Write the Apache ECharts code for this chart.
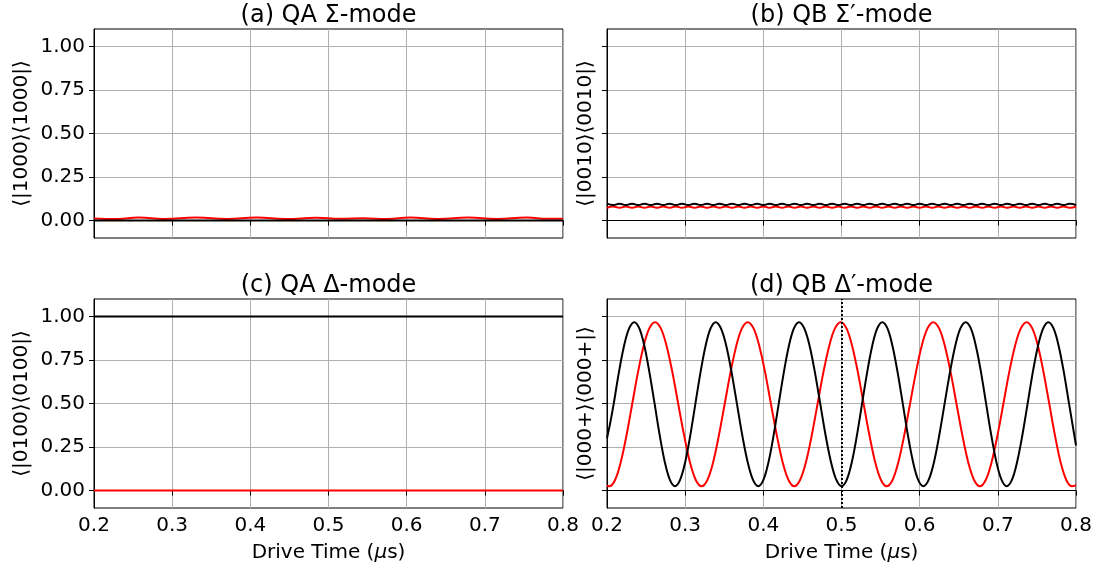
<!DOCTYPE html>
<html><head><meta charset="utf-8">
<script src="https://cdn.jsdelivr.net/npm/echarts@6/dist/echarts.min.js"></script>
<style>html,body{margin:0;padding:0;background:#fff}#c{width:1102px;height:569px}</style>
</head><body><div id="c"></div>
<script>
// ---------- data ----------
const titles = ['(a) QA Σ-mode', '(b) QB Σ′-mode', '(c) QA Δ-mode', '(d) QB Δ′-mode'];
const yLabels = ['⟨|1000⟩⟨1000|⟩', '⟨|0010⟩⟨0010|⟩', '⟨|0100⟩⟨0100|⟩', '⟨|000+⟩⟨000+|⟩'];
const xLabel = 'Drive Time ({i|μ}s)';
const yTicks = [0, 0.25, 0.5, 0.75, 1.0];

// (a)
const aRedX = [0.2, 0.23, 0.257, 0.29, 0.331, 0.37, 0.408, 0.445, 0.485, 0.515, 0.545, 0.575, 0.604, 0.64, 0.679, 0.715, 0.754, 0.78, 0.8];
const aRedY = [0.012, 0.009, 0.017, 0.009, 0.017, 0.009, 0.017, 0.009, 0.016, 0.010, 0.013, 0.009, 0.017, 0.009, 0.017, 0.009, 0.017, 0.010, 0.011];
const aBlackX = [0.2, 0.8];
const aBlackY = [0.0, 0.0];

// (b)
const bX = [0.200, 0.208, 0.216, 0.224, 0.232, 0.240, 0.248, 0.256, 0.264, 0.272, 0.280, 0.288, 0.296, 0.304, 0.312, 0.320, 0.328, 0.336, 0.344, 0.352, 0.360, 0.368, 0.376, 0.384, 0.392, 0.400, 0.408, 0.416, 0.424, 0.432, 0.440, 0.448, 0.456, 0.464, 0.472, 0.480, 0.488, 0.496, 0.504, 0.512, 0.520, 0.528, 0.536, 0.544, 0.552, 0.560, 0.568, 0.576, 0.584, 0.592, 0.600, 0.608, 0.616, 0.624, 0.632, 0.640, 0.648, 0.656, 0.664, 0.672, 0.680, 0.688, 0.696, 0.704, 0.712, 0.720, 0.728, 0.736, 0.744, 0.752, 0.760, 0.768, 0.776, 0.784, 0.792, 0.800];
const bBlackY = [0.097, 0.089, 0.097, 0.089, 0.097, 0.089, 0.097, 0.089, 0.097, 0.089, 0.097, 0.089, 0.097, 0.089, 0.097, 0.089, 0.097, 0.089, 0.097, 0.089, 0.097, 0.089, 0.097, 0.089, 0.097, 0.089, 0.097, 0.089, 0.097, 0.089, 0.097, 0.089, 0.097, 0.089, 0.097, 0.089, 0.097, 0.089, 0.097, 0.089, 0.097, 0.089, 0.097, 0.089, 0.097, 0.089, 0.097, 0.089, 0.097, 0.089, 0.097, 0.089, 0.097, 0.089, 0.097, 0.089, 0.097, 0.089, 0.097, 0.089, 0.097, 0.089, 0.097, 0.089, 0.097, 0.089, 0.097, 0.089, 0.097, 0.089, 0.097, 0.089, 0.097, 0.089, 0.097, 0.089];
const bRedY = [0.073, 0.081, 0.073, 0.081, 0.073, 0.081, 0.073, 0.081, 0.073, 0.081, 0.073, 0.081, 0.073, 0.081, 0.073, 0.081, 0.073, 0.081, 0.073, 0.081, 0.073, 0.081, 0.073, 0.081, 0.073, 0.081, 0.073, 0.081, 0.073, 0.081, 0.073, 0.081, 0.073, 0.081, 0.073, 0.081, 0.073, 0.081, 0.073, 0.081, 0.073, 0.081, 0.073, 0.081, 0.073, 0.081, 0.073, 0.081, 0.073, 0.081, 0.073, 0.081, 0.073, 0.081, 0.073, 0.081, 0.073, 0.081, 0.073, 0.081, 0.073, 0.081, 0.073, 0.081, 0.073, 0.081, 0.073, 0.081, 0.073, 0.081, 0.073, 0.081, 0.073, 0.081, 0.073, 0.081];

// (c)
const cBlackX = [0.2, 0.8];
const cBlackY = [1.0, 1.0];
const cRedX = [0.2, 0.8];
const cRedY = [0.0, 0.0];

// (d)
const dBlackX = [
  0.2000, 0.2042, 0.2085, 0.2151, 0.2217, 0.2283, 0.2349,
  0.2414, 0.2479, 0.2544, 0.2610, 0.2675, 0.2740, 0.2805, 0.2870,
  0.2935, 0.3000, 0.3065, 0.3130, 0.3195, 0.3260, 0.3325, 0.3390,
  0.3458, 0.3527, 0.3595, 0.3663, 0.3731, 0.3800, 0.3868, 0.3936,
  0.4001, 0.4066, 0.4131, 0.4196, 0.4261, 0.4326, 0.4391, 0.4456,
  0.4524, 0.4593, 0.4661, 0.4729, 0.4797, 0.4866, 0.4934, 0.5002,
  0.5067, 0.5132, 0.5197, 0.5262, 0.5327, 0.5392, 0.5457, 0.5522,
  0.5588, 0.5653, 0.5719, 0.5785, 0.5850, 0.5916, 0.5981, 0.6047,
  0.6115, 0.6183, 0.6250, 0.6318, 0.6386, 0.6454, 0.6521, 0.6589,
  0.6655, 0.6720, 0.6786, 0.6851, 0.6917, 0.6982, 0.7048, 0.7113,
  0.7180, 0.7246, 0.7313, 0.7380, 0.7446, 0.7513, 0.7580, 0.7646,
  0.7713, 0.7779, 0.7846, 0.7912, 0.7979, 0.8000];
const dBlackY = [
  0.300, 0.390, 0.496, 0.676, 0.829, 0.931, 0.967,
  0.931, 0.829, 0.676, 0.496, 0.316, 0.163, 0.061, 0.025,
  0.061, 0.163, 0.316, 0.496, 0.676, 0.829, 0.931, 0.967,
  0.931, 0.829, 0.676, 0.496, 0.316, 0.163, 0.061, 0.025,
  0.061, 0.163, 0.316, 0.496, 0.676, 0.829, 0.931, 0.967,
  0.931, 0.829, 0.676, 0.496, 0.316, 0.163, 0.061, 0.025,
  0.061, 0.163, 0.316, 0.496, 0.676, 0.829, 0.931, 0.967,
  0.931, 0.829, 0.676, 0.496, 0.316, 0.163, 0.061, 0.025,
  0.061, 0.163, 0.316, 0.496, 0.676, 0.829, 0.931, 0.967,
  0.931, 0.829, 0.676, 0.496, 0.316, 0.163, 0.061, 0.025,
  0.061, 0.163, 0.316, 0.496, 0.676, 0.829, 0.931, 0.967,
  0.931, 0.829, 0.676, 0.496, 0.316, 0.260];
const dRedX = [
  0.2000, 0.2030,
  0.2103, 0.2176, 0.2249, 0.2322, 0.2395, 0.2468, 0.2541, 0.2614,
  0.2689, 0.2763, 0.2838, 0.2912, 0.2987, 0.3061, 0.3136, 0.3210,
  0.3284, 0.3358, 0.3431, 0.3505, 0.3579, 0.3653, 0.3726, 0.3800,
  0.3875, 0.3949, 0.4024, 0.4098, 0.4173, 0.4247, 0.4322, 0.4396,
  0.4470, 0.4545, 0.4619, 0.4693, 0.4767, 0.4842, 0.4916, 0.4990,
  0.5064, 0.5137, 0.5211, 0.5284, 0.5358, 0.5431, 0.5505, 0.5578,
  0.5653, 0.5727, 0.5802, 0.5876, 0.5951, 0.6025, 0.6100, 0.6174,
  0.6249, 0.6323, 0.6398, 0.6472, 0.6547, 0.6621, 0.6696, 0.6770,
  0.6845, 0.6920, 0.6995, 0.7070, 0.7144, 0.7219, 0.7294, 0.7369,
  0.7441, 0.7514, 0.7586, 0.7659, 0.7731, 0.7803, 0.7876, 0.7948,
  0.8000];
const dRedY = [
  0.028, 0.025,
  0.061, 0.163, 0.316, 0.496, 0.676, 0.829, 0.931, 0.967,
  0.931, 0.829, 0.676, 0.496, 0.316, 0.163, 0.061, 0.025,
  0.061, 0.163, 0.316, 0.496, 0.676, 0.829, 0.931, 0.967,
  0.931, 0.829, 0.676, 0.496, 0.316, 0.163, 0.061, 0.025,
  0.061, 0.163, 0.316, 0.496, 0.676, 0.829, 0.931, 0.967,
  0.931, 0.829, 0.676, 0.496, 0.316, 0.163, 0.061, 0.025,
  0.061, 0.163, 0.316, 0.496, 0.676, 0.829, 0.931, 0.967,
  0.931, 0.829, 0.676, 0.496, 0.316, 0.163, 0.061, 0.025,
  0.061, 0.163, 0.316, 0.496, 0.676, 0.829, 0.931, 0.967,
  0.931, 0.829, 0.676, 0.496, 0.316, 0.163, 0.061, 0.025,
  0.030];
const dMarkX = 0.5;

// ---------- chart ----------
const zip = (xs, ys) => xs.map((x, i) => [x, ys[i]]);
const FONT = 'DejaVu Sans';
const grids = [
  {left: 94, top: 29, width: 469, height: 209},
  {left: 607, top: 29, width: 469, height: 209},
  {left: 94, top: 299, width: 469, height: 209},
  {left: 607, top: 299, width: 469, height: 209}
];
const gridLine = {show: true, lineStyle: {color: '#b0b0b0', width: 1}};

const option = {
  animation: false,
  backgroundColor: '#fff',
  grid: grids.map(g => Object.assign({show: true, borderColor: '#000', borderWidth: 1, backgroundColor: 'transparent'}, g)),
  xAxis: grids.map((g, i) => ({
    type: 'value', gridIndex: i, min: 0.2, max: 0.8, interval: 0.1,
    axisLine: {show: true, lineStyle: {color: '#000', width: 1}},
    axisTick: {show: true, inside: false, length: 5, lineStyle: {color: '#000', width: 1}},
    axisLabel: {show: i >= 2, margin: 8, color: '#000', fontSize: 20, fontFamily: FONT,
      formatter: v => v.toFixed(1)},
    splitLine: gridLine,
    name: i >= 2 ? xLabel : '',
    nameLocation: 'middle', nameGap: 35,
    nameTextStyle: {color: '#000', fontSize: 20, fontFamily: FONT,
      rich: {i: {fontStyle: 'italic', fontSize: 20, fontFamily: FONT, color: '#000'}}}
  })),
  yAxis: grids.map((g, i) => ({
    type: 'value', gridIndex: i, min: -0.1, max: 1.1,
    axisLine: {show: true, lineStyle: {color: '#000', width: 1}},
    axisTick: {show: true, inside: false, length: 5, customValues: yTicks, lineStyle: {color: '#000', width: 1}},
    axisLabel: {show: i % 2 === 0, margin: 9, customValues: yTicks, color: '#000', fontSize: 20, fontFamily: FONT,
      formatter: v => v.toFixed(2)},
    splitLine: gridLine
  })),
  graphic: [
    ...titles.map((t, i) => ({
      type: 'text', x: grids[i].left + grids[i].width / 2, y: grids[i].top - 13,
      style: {text: t, fill: '#000', fontSize: 24, fontFamily: FONT,
        align: 'center', verticalAlign: 'middle', textAlign: 'center', textVerticalAlign: 'middle'}
    })),
    ...yLabels.map((t, i) => ({
      type: 'text', x: i % 2 === 0 ? 22 : 586, y: grids[i].top + grids[i].height / 2,
      rotation: Math.PI / 2,
      style: {text: t, fill: '#000', fontSize: 20, fontFamily: FONT,
        align: 'center', verticalAlign: 'middle', textAlign: 'center', textVerticalAlign: 'middle'}
    }))
  ],
  series: [
    {type: 'line', xAxisIndex: 0, yAxisIndex: 0, data: zip(aRedX, aRedY), smooth: 0.5, showSymbol: false, lineStyle: {color: '#ff0000', width: 2}},
    {type: 'line', xAxisIndex: 0, yAxisIndex: 0, data: zip(aBlackX, aBlackY), showSymbol: false, lineStyle: {color: '#000', width: 2}},
    {type: 'line', xAxisIndex: 1, yAxisIndex: 1, data: zip(bX, bRedY), smooth: 0.5, showSymbol: false, lineStyle: {color: '#ff0000', width: 2}},
    {type: 'line', xAxisIndex: 1, yAxisIndex: 1, data: zip(bX, bBlackY), smooth: 0.5, showSymbol: false, lineStyle: {color: '#000', width: 2}},
    {type: 'line', xAxisIndex: 2, yAxisIndex: 2, data: zip(cRedX, cRedY), showSymbol: false, lineStyle: {color: '#ff0000', width: 2}},
    {type: 'line', xAxisIndex: 2, yAxisIndex: 2, data: zip(cBlackX, cBlackY), showSymbol: false, lineStyle: {color: '#000', width: 2}},
    {type: 'line', xAxisIndex: 3, yAxisIndex: 3, data: zip(dRedX, dRedY), smooth: 0.35, showSymbol: false, lineStyle: {color: '#ff0000', width: 2}},
    {type: 'line', xAxisIndex: 3, yAxisIndex: 3, data: zip(dBlackX, dBlackY), smooth: 0.35, showSymbol: false, lineStyle: {color: '#000', width: 2},
      markLine: {silent: true, symbol: 'none', label: {show: false},
        lineStyle: {type: 'dotted', color: '#000', width: 2},
        data: [{xAxis: dMarkX}]}}
  ]
};
const chart = echarts.init(document.getElementById('c'), null, {renderer: 'canvas'});
chart.setOption(option);
</script>
</body></html>
